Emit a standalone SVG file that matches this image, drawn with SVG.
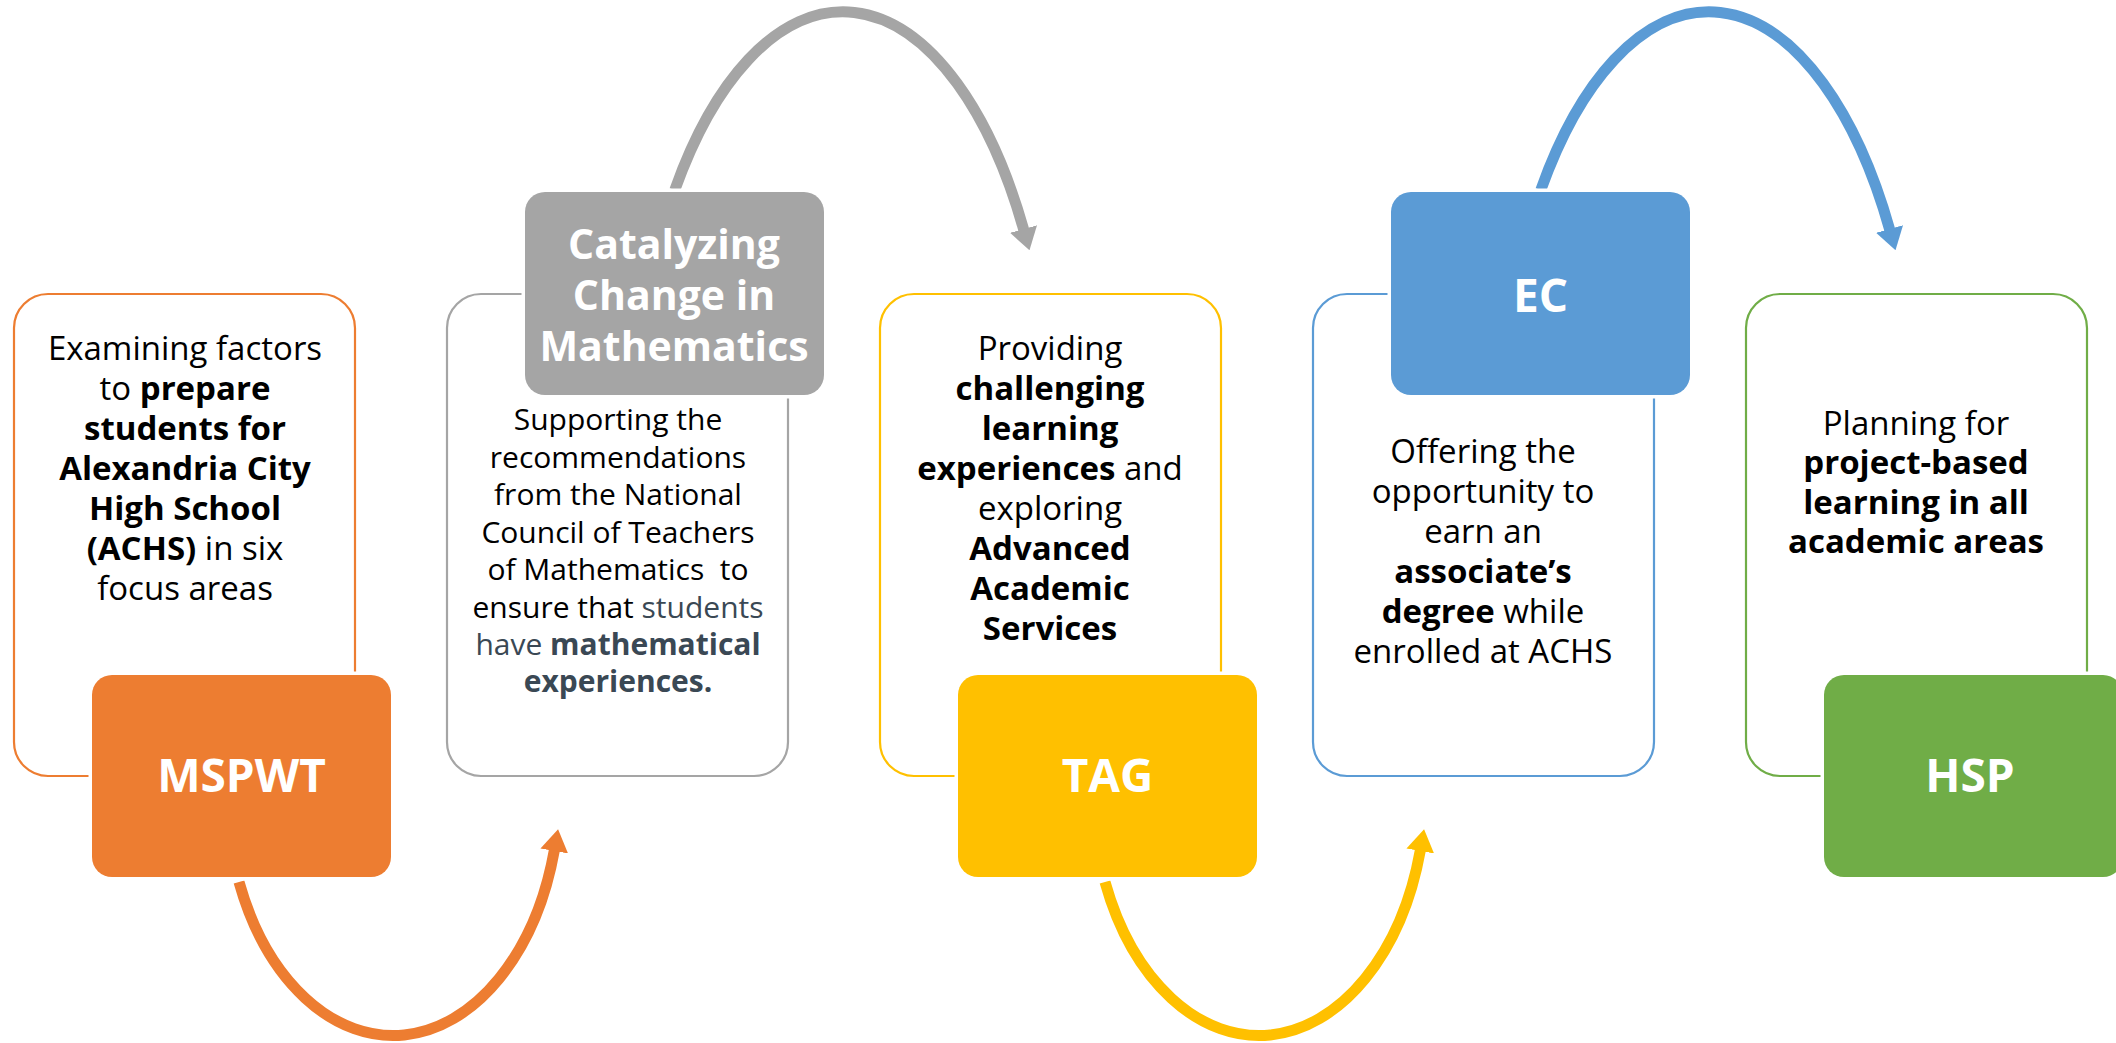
<svg xmlns="http://www.w3.org/2000/svg" width="2116" height="1043" viewBox="0 0 2116 1043">
<style>
.t{font-family:"Open Sans","Noto Sans",sans-serif;font-size:33px;fill:#000;text-anchor:middle}
.s{font-size:30px}
.b{font-weight:700}
.sl{fill:#3A4854}
.lab{font-family:"Open Sans","Noto Sans",sans-serif;font-weight:700;fill:#fff;text-anchor:middle;font-size:46px}
.cat{font-size:41px}
.ol{fill:#fff;stroke-width:2.2}
.fb{stroke:#fff;stroke-width:7;paint-order:stroke}
.arc{fill:none;stroke-width:11}
</style>
<defs>
<marker id="mo" markerUnits="userSpaceOnUse" viewBox="0 0 22 28" refX="1" refY="14" markerWidth="22" markerHeight="28" orient="auto"><path d="M0,0 L22,14 L0,28 Z" fill="#ED7D31"/></marker>
<marker id="mg" markerUnits="userSpaceOnUse" viewBox="0 0 22 28" refX="1" refY="14" markerWidth="22" markerHeight="28" orient="auto"><path d="M0,0 L22,14 L0,28 Z" fill="#A5A5A5"/></marker>
<marker id="my" markerUnits="userSpaceOnUse" viewBox="0 0 22 28" refX="1" refY="14" markerWidth="22" markerHeight="28" orient="auto"><path d="M0,0 L22,14 L0,28 Z" fill="#FFC000"/></marker>
<marker id="mb" markerUnits="userSpaceOnUse" viewBox="0 0 22 28" refX="1" refY="14" markerWidth="22" markerHeight="28" orient="auto"><path d="M0,0 L22,14 L0,28 Z" fill="#5B9BD5"/></marker>
</defs>
<rect width="2116" height="1043" fill="#fff"/>

<g id="connectors">
<path class="arc" stroke="#ED7D31" marker-end="url(#mo)" d="M239 882 A167 250 0 0 0 554.4 850"/>
<path class="arc" stroke="#A5A5A5" marker-end="url(#mg)" d="M674.8 190 A211 450 0 0 1 1023.8 230"/>
<path class="arc" stroke="#FFC000" marker-end="url(#my)" d="M1105 882 A167 250 0 0 0 1420.4 850"/>
<path class="arc" stroke="#5B9BD5" marker-end="url(#mb)" d="M1540.8 190 A211 450 0 0 1 1889.8 230"/>
</g>

<g id="node-mspwt">
<rect class="ol" x="14" y="294" width="341" height="482" rx="34" stroke="#ED7D31"/>
<text class="t"><tspan x="185" y="360">Examining factors</tspan><tspan x="185" y="400">to <tspan class="b">prepare</tspan></tspan><tspan x="185" y="440" class="b">students for</tspan><tspan x="185" y="480" class="b">Alexandria City</tspan><tspan x="185" y="520" class="b">High School</tspan><tspan x="185" y="560"><tspan class="b">(ACHS)</tspan> in six</tspan><tspan x="185" y="600">focus areas</tspan></text>
<rect class="fb" x="92" y="675" width="299" height="202" rx="20" fill="#ED7D31"/>
<text class="lab" x="241.5" y="792">MSPWT</text>
</g>

<g id="node-catalyzing">
<rect class="ol" x="447" y="294" width="341" height="482" rx="34" stroke="#A5A5A5"/>
<text class="t s"><tspan x="618" y="430">Supporting the</tspan><tspan x="618" y="467.5">recommendations</tspan><tspan x="618" y="505">from the National</tspan><tspan x="618" y="542.5">Council of Teachers</tspan><tspan x="618" y="580">of Mathematics&#160; to</tspan><tspan x="618" y="617.5">ensure that <tspan class="sl">students</tspan></tspan><tspan x="618" y="655" class="sl">have <tspan class="b">mathematical</tspan></tspan><tspan x="618" y="692" class="sl b">experiences.</tspan></text>
<rect class="fb" x="525" y="192" width="299" height="203" rx="20" fill="#A5A5A5"/>
<text class="lab cat"><tspan x="674" y="259">Catalyzing</tspan><tspan x="674" y="310">Change in</tspan><tspan x="674" y="361">Mathematics</tspan></text>
</g>

<g id="node-tag">
<rect class="ol" x="880" y="294" width="341" height="482" rx="34" stroke="#FFC000"/>
<text class="t"><tspan x="1050" y="359.5">Providing</tspan><tspan x="1050" y="399.5" class="b">challenging</tspan><tspan x="1050" y="439.5" class="b">learning</tspan><tspan x="1050" y="479.5"><tspan class="b">experiences</tspan> and</tspan><tspan x="1050" y="519.5">exploring</tspan><tspan x="1050" y="559.5" class="b">Advanced</tspan><tspan x="1050" y="599.5" class="b">Academic</tspan><tspan x="1050" y="639.5" class="b">Services</tspan></text>
<rect class="fb" x="958" y="675" width="299" height="202" rx="20" fill="#FFC000"/>
<text class="lab" x="1107.5" y="792">TAG</text>
</g>

<g id="node-ec">
<rect class="ol" x="1313" y="294" width="341" height="482" rx="34" stroke="#5B9BD5"/>
<text class="t"><tspan x="1483" y="463">Offering the</tspan><tspan x="1483" y="503">opportunity to</tspan><tspan x="1483" y="543">earn an</tspan><tspan x="1483" y="583" class="b">associate’s</tspan><tspan x="1483" y="623"><tspan class="b">degree</tspan> while</tspan><tspan x="1483" y="663">enrolled at ACHS</tspan></text>
<rect class="fb" x="1391" y="192" width="299" height="203" rx="20" fill="#5B9BD5"/>
<text class="lab" x="1540.5" y="312">EC</text>
</g>

<g id="node-hsp">
<rect class="ol" x="1746" y="294" width="341" height="482" rx="34" stroke="#70AD47"/>
<text class="t"><tspan x="1916" y="435">Planning for</tspan><tspan x="1916" y="474" class="b">project-based</tspan><tspan x="1916" y="513.5" class="b">learning in all</tspan><tspan x="1916" y="553" class="b">academic areas</tspan></text>
<rect class="fb" x="1824" y="675" width="299" height="202" rx="20" fill="#70AD47"/>
<text class="lab" x="1970" y="792">HSP</text>
</g>
</svg>
